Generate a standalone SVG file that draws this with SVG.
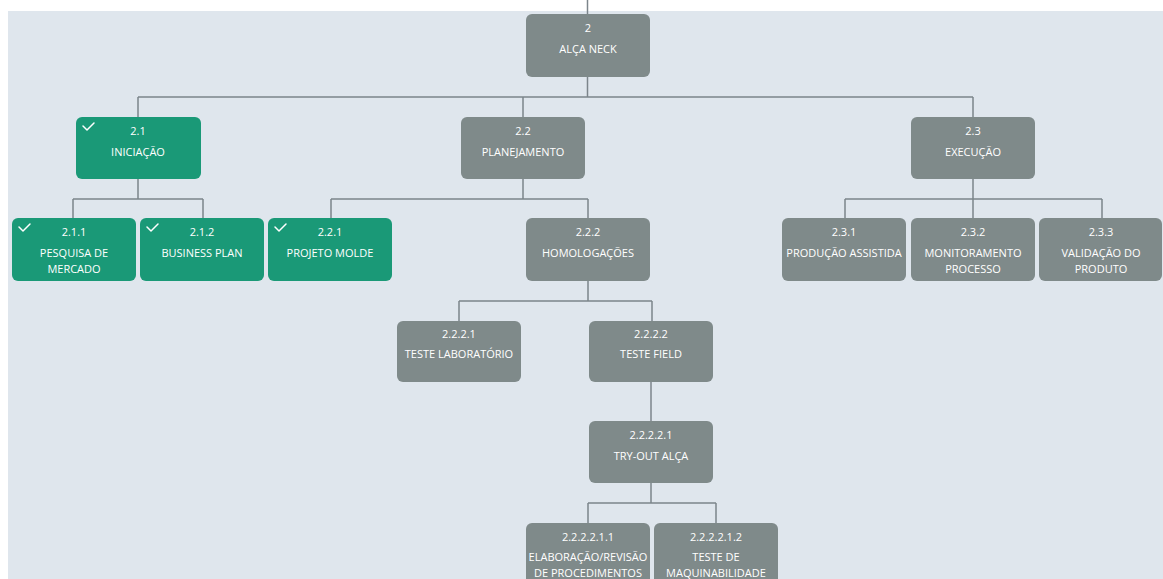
<svg xmlns="http://www.w3.org/2000/svg" width="1163" height="579" viewBox="0 0 1163 579">
<style>
.n{fill:#7f8a8a}
.g{fill:#1a9977}
.t{font-family:"Open Sans","Noto Sans",sans-serif;font-size:11px;fill:#ffffff;text-anchor:middle}
.c{fill:none;stroke:#7c858b;stroke-width:1.5}
.k{fill:none;stroke:#ffffff;stroke-width:1.5;stroke-linecap:round;stroke-linejoin:round}
</style>
<rect x="0" y="0" width="1163" height="579" fill="#ffffff"/>
<rect x="8" y="11" width="1155" height="568" fill="#dfe6ed"/>
<g id="connectors" class="c">
<path d="M587.5,0V14"/>
<path d="M587.5,77V97M138,97H973M138,97V117M523,97V117M973,97V117"/>
<path d="M138,179V199M73,199H203M73,199V218M203,199V218"/>
<path d="M523,179V199M331,199H588M331,199V218M588,199V218"/>
<path d="M973,179V199M845,199H1102M845,199V218M973,199V218M1102,199V218"/>
<path d="M588,281V301M459,301H652M459,301V321M652,301V321"/>
<path d="M651,382V421"/>
<path d="M651,483V503M588,503H716M588,503V523M716,503V523"/>
</g>
<g id="n2"><rect class="n" x="526" y="14" width="124" height="63" rx="6"/><text class="t" x="588" y="32">2</text><text class="t" x="588" y="53">ALÇA NECK</text></g>
<g id="n2-1"><rect class="g" x="76" y="117" width="125" height="62" rx="6"/><path class="k" d="M83,126L87,130L94,123"/><text class="t" x="138" y="135">2.1</text><text class="t" x="138" y="156">INICIAÇÃO</text></g>
<g id="n2-2"><rect class="n" x="461" y="117" width="124" height="62" rx="6"/><text class="t" x="523" y="135">2.2</text><text class="t" x="523" y="156">PLANEJAMENTO</text></g>
<g id="n2-3"><rect class="n" x="911" y="117" width="124" height="62" rx="6"/><text class="t" x="973" y="135">2.3</text><text class="t" x="973" y="156">EXECUÇÃO</text></g>
<g id="n2-1-1"><rect class="g" x="12" y="218" width="124" height="63" rx="6"/><path class="k" d="M19,227L23,231L30,224"/><text class="t" x="74" y="236">2.1.1</text><text class="t" x="74" y="257">PESQUISA DE</text><text class="t" x="74" y="273">MERCADO</text></g>
<g id="n2-1-2"><rect class="g" x="140" y="218" width="124" height="63" rx="6"/><path class="k" d="M147,227L151,231L158,224"/><text class="t" x="202" y="236">2.1.2</text><text class="t" x="202" y="257">BUSINESS PLAN</text></g>
<g id="n2-2-1"><rect class="g" x="268" y="218" width="124" height="63" rx="6"/><path class="k" d="M275,227L279,231L286,224"/><text class="t" x="330" y="236">2.2.1</text><text class="t" x="330" y="257">PROJETO MOLDE</text></g>
<g id="n2-2-2"><rect class="n" x="526" y="218" width="124" height="63" rx="6"/><text class="t" x="588" y="236">2.2.2</text><text class="t" x="588" y="257">HOMOLOGAÇÕES</text></g>
<g id="n2-3-1"><rect class="n" x="782" y="218" width="124" height="63" rx="6"/><text class="t" x="844" y="236">2.3.1</text><text class="t" x="844" y="257">PRODUÇÃO ASSISTIDA</text></g>
<g id="n2-3-2"><rect class="n" x="911" y="218" width="124" height="63" rx="6"/><text class="t" x="973" y="236">2.3.2</text><text class="t" x="973" y="257">MONITORAMENTO</text><text class="t" x="973" y="273">PROCESSO</text></g>
<g id="n2-3-3"><rect class="n" x="1039" y="218" width="123" height="63" rx="6"/><text class="t" x="1101" y="236">2.3.3</text><text class="t" x="1101" y="257">VALIDAÇÃO DO</text><text class="t" x="1101" y="273">PRODUTO</text></g>
<g id="n2-2-2-1"><rect class="n" x="397" y="321" width="124" height="61" rx="6"/><text class="t" x="459" y="338">2.2.2.1</text><text class="t" x="459" y="358">TESTE LABORATÓRIO</text></g>
<g id="n2-2-2-2"><rect class="n" x="589" y="321" width="124" height="61" rx="6"/><text class="t" x="651" y="338">2.2.2.2</text><text class="t" x="651" y="358">TESTE FIELD</text></g>
<g id="n2-2-2-2-1"><rect class="n" x="589" y="421" width="124" height="62" rx="6"/><text class="t" x="651" y="439">2.2.2.2.1</text><text class="t" x="651" y="460">TRY-OUT ALÇA</text></g>
<g id="n2-2-2-2-1-1"><rect class="n" x="526" y="523" width="124" height="70" rx="6"/><text class="t" x="588" y="541">2.2.2.2.1.1</text><text class="t" x="588" y="561">ELABORAÇÃO/REVISÃO</text><text class="t" x="588" y="577">DE PROCEDIMENTOS</text></g>
<g id="n2-2-2-2-1-2"><rect class="n" x="654" y="523" width="124" height="70" rx="6"/><text class="t" x="716" y="541">2.2.2.2.1.2</text><text class="t" x="716" y="561">TESTE DE</text><text class="t" x="716" y="577">MAQUINABILIDADE</text></g>
</svg>
